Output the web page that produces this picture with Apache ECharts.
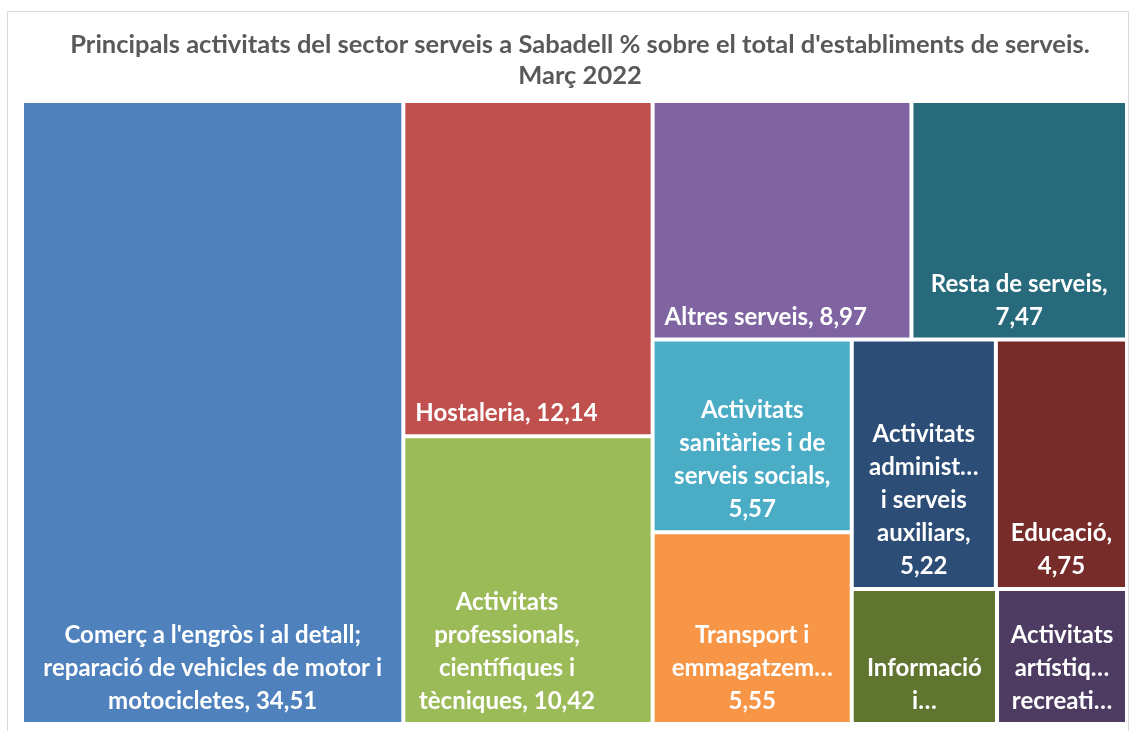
<!DOCTYPE html>
<html>
<head>
<meta charset="utf-8">
<script src="https://cdn.jsdelivr.net/npm/echarts@6/dist/echarts.min.js"></script>
<style>
  html, body { margin: 0; padding: 0; background: #fff; }
  #chart { width: 1130px; height: 731px; }
</style>
</head>
<body>
<div id="chart"></div>
<script>
const categories = [
  "Comerç a l'engròs i al detall; reparació de vehicles de motor i motocicletes",
  'Hostaleria',
  'Activitats professionals, científiques i tècniques',
  'Altres serveis',
  'Resta de serveis',
  'Activitats sanitàries i de serveis socials',
  'Transport i emmagatzematge',
  'Activitats administratives i serveis auxiliars',
  'Educació',
  'Informació i comunicacions',
  "Activitats artístiques, recreatives i d'entreteniment"
];
const values = [34.51, 12.14, 10.42, 8.97, 7.47, 5.57, 5.55, 5.22, 4.75, 2.85, 2.55];
// label text as it is wrapped in the picture, {v} = value
const labelText = [
  "Comerç a l'engròs i al detall;\nreparació de vehicles de motor i\nmotocicletes, {v}",
  'Hostaleria, {v}',
  'Activitats\nprofessionals,\ncientífiques i\ntècniques, {v}',
  'Altres serveis, {v}',
  'Resta de serveis,\n{v}',
  'Activitats\nsanitàries i de\nserveis socials,\n{v}',
  'Transport i\nemmagatzem…\n{v}',
  'Activitats\nadminist…\ni serveis\nauxiliars,\n{v}',
  'Educació,\n{v}',
  'Informació\ni…',
  'Activitats\nartístiq…\nrecreati…'
];
const colors = ['#4F81BD', '#C0504D', '#9BBB59', '#8064A2', '#276A7C', '#4BACC6',
  '#F79646', '#2C4D75', '#772C2A', '#5F7530', '#4D3B62'];

const fmt = v => v.toFixed(2).replace('.', ',');

const data = categories.map((name, i) => {
  const item = { name: name, value: values[i], itemStyle: { color: colors[i] } };
  if (i === 1 || i === 3) {
    item.label = { position: 'insideBottomLeft', padding: [0, 10, 4, 10] };
  }
  if (i === 2) {
    item.label = { offset: [-21, 0] };
  }
  return item;
});

const myChart = echarts.init(document.getElementById('chart'));
myChart.setOption({
  backgroundColor: '#fff',
  title: {
    text: "Principals activitats del sector serveis a Sabadell % sobre el total d'establiments de serveis.\nMarç 2022",
    left: 575,
    textAlign: 'center',
    top: 24,
    textStyle: {
      fontFamily: 'Lato',
      fontWeight: 'bold',
      fontSize: 25.5,
      lineHeight: 31,
      color: '#595959'
    }
  },
  graphic: [{
    type: 'rect',
    shape: { x: 7.5, y: 11.5, width: 1121, height: 740 },
    style: { fill: null, stroke: '#d9d9d9', lineWidth: 1 },
    silent: true
  }],
  series: [{
    type: 'treemap',
    left: 24,
    top: 103,
    width: 1101,
    height: 619,
    roam: false,
    nodeClick: false,
    squareRatio: 1,
    breadcrumb: { show: false },
    itemStyle: { borderWidth: 0, gapWidth: 4, borderColor: '#fff' },
    label: {
      show: true,
      position: 'insideBottom',
      distance: 0,
      padding: [0, 8, 4, 8],
      overflow: 'none',
      color: '#fff',
      fontFamily: 'Lato',
      fontWeight: 'bold',
      fontSize: 24,
      lineHeight: 33,
      formatter: p => {
        const i = categories.indexOf(p.name);
        return i < 0 ? '' : labelText[i].replace('{v}', fmt(p.value));
      }
    },
    data: data
  }]
});
</script>
</body>
</html>
